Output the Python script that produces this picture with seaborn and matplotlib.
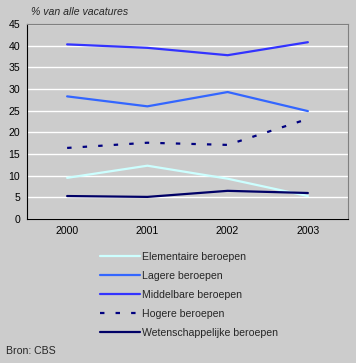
import numpy as np
import pandas as pd

import matplotlib
matplotlib.use("Agg")
import matplotlib.pyplot as plt
import seaborn as sns

years = ["2000", "2001", "2002", "2003"]
elementaire = [9.5, 12.3, 9.3, 5.3]
lagere = [28.3, 26.0, 29.3, 24.9]
middelbare = [40.3, 39.5, 37.8, 40.8]
hogere = [16.4, 17.6, 17.1, 23.1]
wetenschappelijk = [5.3, 5.1, 6.5, 6.0]

series_names = ["Elementaire beroepen", "Lagere beroepen", "Middelbare beroepen",
                "Hogere beroepen", "Wetenschappelijke beroepen"]
series_values = [elementaire, lagere, middelbare, hogere, wetenschappelijk]
colours = ["#CCFFFF", "#3366FF", "#3333FF", "#000080", "#000066"]

BG = "#CCCCCC"


def build_frame():
    rows = []
    for name, vals in zip(series_names, series_values):
        for i, v in enumerate(vals):
            rows.append({"pos": i, "jaar": years[i], "Beroep": name, "pct": v})
    return pd.DataFrame(rows)


def main():
    sns.set_style("white")
    plt.rcParams['font.family'] = ['Liberation Sans', 'DejaVu Sans']
    plt.rcParams['font.size'] = 7.6

    df = build_frame()

    fig = plt.figure(figsize=(3.56, 3.63), dpi=100, facecolor=BG)
    ax = fig.add_axes([27 / 356, 1 - 219 / 363, 321 / 356, 195 / 363])
    ax.set_facecolor(BG)

    dashes = {n: "" for n in series_names}
    dashes["Hogere beroepen"] = (2, 5)
    sns.lineplot(data=df, x="pos", y="pct", hue="Beroep", style="Beroep",
                 palette=dict(zip(series_names, colours)), dashes=dashes,
                 hue_order=series_names, style_order=series_names,
                 linewidth=1.6, ax=ax, legend=False)

    ax.set_xlim(-0.5, 3.5)
    ax.set_ylim(0, 45)
    ax.set_yticks(np.arange(0, 50, 5))
    ax.set_xticks(range(len(years)))
    ax.set_xticklabels(years)
    ax.set_xticks(np.arange(-0.5, 4, 1), minor=True)
    ax.tick_params(axis="x", which="major", length=0, pad=5, colors="black")
    ax.tick_params(axis="x", which="minor", length=3, width=0.8, direction="out", color="black")
    ax.tick_params(axis="y", length=3, width=0.8, direction="out", pad=2, colors="black")
    ax.set_xlabel("")
    ax.set_ylabel("")
    ax.grid(axis="y", color="white", linewidth=1)
    ax.set_axisbelow(True)

    for side in ["left", "bottom"]:
        ax.spines[side].set_color("black")
        ax.spines[side].set_linewidth(0.8)
    for side in ["top", "right"]:
        ax.spines[side].set_color("#808080")
        ax.spines[side].set_linewidth(0.8)

    fig.text(31 / 356, 1 - 12 / 363, "% van alle vacatures", style="italic",
             va="center", ha="left")

    handles = ax.get_lines()[:len(series_names)]
    fig.legend(handles, series_names, loc="upper left",
               bbox_to_anchor=(100 / 356, 1 - 252 / 363), frameon=False,
               handlelength=3.8, handletextpad=0.2, labelspacing=0.85,
               borderpad=0, borderaxespad=0)

    fig.text(6 / 356, 1 - 351 / 363, "Bron: CBS", va="center", ha="left")

    fig.savefig("out.png", dpi=100, facecolor=BG)


if __name__ == "__main__":
    main()
